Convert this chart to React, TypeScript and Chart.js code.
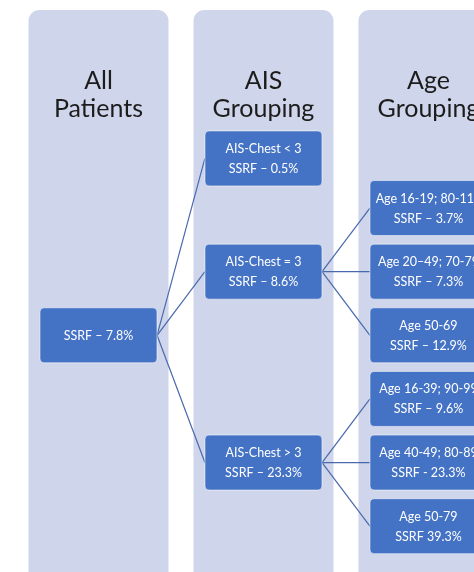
import React, { useEffect, useRef } from "react";
import { Chart, registerables } from "chart.js";

Chart.register(...registerables);

// ---- Data ----
const levelTitles: string[][] = [
  ["All", "Patients"],
  ["AIS", "Grouping"],
  ["Age", "Grouping"],
];
const nodeLevels = [0, 1, 1, 1, 2, 2, 2, 2, 2, 2];
const nodeRows = [2, -0.78, 1, 4, 0, 1, 2, 3, 4, 5];
const nodeParents = [-1, 0, 0, 0, 2, 2, 2, 3, 3, 3];
const nodeLabel1 = [
  "",
  "AIS-Chest < 3",
  "AIS-Chest = 3",
  "AIS-Chest > 3",
  "Age 16-19; 80-119",
  "Age 20–49; 70-79",
  "Age 50-69",
  "Age 16-39; 90-99",
  "Age 40-49; 80-89",
  "Age 50-79",
];
const nodeLabel2 = [
  "SSRF – 7.8%",
  "SSRF – 0.5%",
  "SSRF – 8.6%",
  "SSRF – 23.3%",
  "SSRF – 3.7%",
  "SSRF – 7.3%",
  "SSRF – 12.9%",
  "SSRF – 9.6%",
  "SSRF - 23.3%",
  "SSRF 39.3%",
];

// ---- Styles ----
const PANEL_COLOR = "#CFD5EA";
const BOX_COLOR = "#4472C4";
const LINE_COLOR = "#4A69AD";
const TITLE_COLOR = "#1c1c1c";
const FONT = "Lato, 'Open Sans', sans-serif";
const BOX_W = 117;
const BOX_H = 55;
const PANEL_W = 140;
const BOX_HALF_UNITS = 0.355; // half box width in level units
const TITLE_ROW = -1.8;

export default function App() {
  const canvasRef = useRef<HTMLCanvasElement | null>(null);

  useEffect(() => {
    const canvas = canvasRef.current;
    if (!canvas) return;

    const edgeDatasets: any[] = [];
    nodeParents.forEach((p, i) => {
      if (p < 0) return;
      edgeDatasets.push({
        type: "scatter",
        data: [
          { x: nodeLevels[p] + BOX_HALF_UNITS, y: nodeRows[p] },
          { x: nodeLevels[i] - BOX_HALF_UNITS, y: nodeRows[i] },
        ],
        showLine: true,
        borderColor: LINE_COLOR,
        borderWidth: 1.2,
        pointRadius: 0,
        pointHoverRadius: 0,
      });
    });

    const nodeDataset = {
      type: "scatter",
      data: nodeLevels.map((l, i) => ({ x: l, y: nodeRows[i] })),
      pointRadius: 0,
      pointHoverRadius: 0,
      showLine: false,
    };

    const NODE_DS = edgeDatasets.length;

    const panelPlugin = {
      id: "panels",
      beforeDatasetsDraw(chart: any) {
        const { ctx, scales } = chart;
        const xs = scales.x;
        const ys = scales.y;
        ctx.save();
        levelTitles.forEach((lines, l) => {
          const cx = xs.getPixelForValue(l);
          ctx.fillStyle = PANEL_COLOR;
          ctx.beginPath();
          ctx.roundRect(cx - PANEL_W / 2, 10, PANEL_W, 600, 11);
          ctx.fill();
          const cy = ys.getPixelForValue(TITLE_ROW);
          ctx.fillStyle = TITLE_COLOR;
          ctx.font = `25px ${FONT}`;
          ctx.textAlign = "center";
          ctx.textBaseline = "alphabetic";
          ctx.fillText(lines[0], cx, cy - 4.5);
          ctx.fillText(lines[1], cx, cy + 23.5);
        });
        ctx.restore();
      },
      afterDatasetsDraw(chart: any) {
        const { ctx } = chart;
        const meta = chart.getDatasetMeta(NODE_DS);
        ctx.save();
        meta.data.forEach((pt: any, i: number) => {
          const x = pt.x;
          const y = pt.y;
          ctx.beginPath();
          ctx.roundRect(x - BOX_W / 2, y - BOX_H / 2, BOX_W, BOX_H, 4);
          ctx.fillStyle = BOX_COLOR;
          ctx.fill();
          ctx.lineWidth = 1;
          ctx.strokeStyle = "rgba(255,255,255,0.55)";
          ctx.stroke();
          ctx.fillStyle = "#ffffff";
          ctx.font = `12.5px ${FONT}`;
          ctx.textAlign = "center";
          ctx.textBaseline = "alphabetic";
          if (nodeLabel1[i]) {
            ctx.fillText(nodeLabel1[i], x, y - 5.5);
            ctx.fillText(nodeLabel2[i], x, y + 14.5);
          } else {
            ctx.fillText(nodeLabel2[i], x, y + 4.5);
          }
        });
        ctx.restore();
      },
    };

    const chart = new Chart(canvas, {
      type: "scatter",
      data: { datasets: [...edgeDatasets, nodeDataset] as any },
      options: {
        animation: false,
        responsive: false,
        layout: { padding: 0 },
        events: [],
        plugins: {
          legend: { display: false },
          tooltip: { enabled: false },
          title: { display: false },
        },
        scales: {
          x: { type: "linear", display: false, min: -0.597, max: 2.276 },
          y: { type: "linear", display: false, reverse: true, min: -3.27, max: 5.72 },
        },
      },
      plugins: [panelPlugin],
    });

    return () => chart.destroy();
  }, []);

  return (
    <div style={{ position: "absolute", left: 0, top: 0, width: 474, height: 572, background: "#ffffff" }}>
      <canvas ref={canvasRef} width={474} height={572} />
    </div>
  );
}
